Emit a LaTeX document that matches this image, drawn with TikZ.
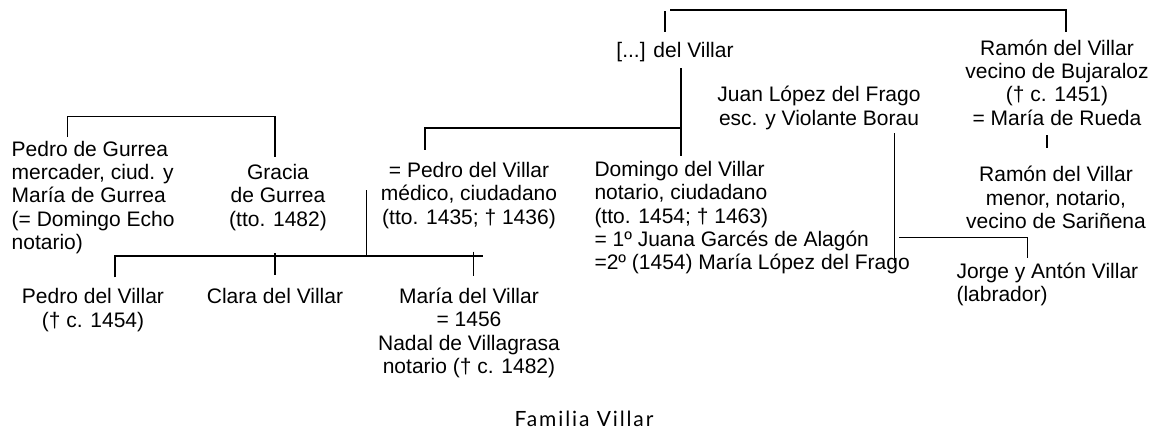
\documentclass[tikz,border=0pt]{standalone}
\usepackage{fontspec}
\setmainfont{Liberation Sans}
\newfontfamily\capfont[LetterSpace=9]{Lato}
\begin{document}
\begin{tikzpicture}[x=1pt,y=-1pt,
  person/.style={inner sep=0pt, font=\fontsize{21}{23.3}\selectfont},
  pc/.style={person, align=center, anchor=north},
  pl/.style={person, align=left, anchor=north west},
  link/.style={line width=1.4pt, line cap=butt}]
\fill[white] (0,0) rectangle (1163,437);
\useasboundingbox (0,0) rectangle (1163,437);

% people
\node[pc] (anc) at (675,41) {\strut[...] del Villar};
\node[pc] (ramon) at (1057,38.7) {\strut Ramón del Villar\\vecino de Bujaraloz\\(† c. 1451)\\= María de Rueda};
\node[pc] (juan) at (819,85.4) {\strut Juan López del Frago\\esc. y Violante Borau};
\node[pc] (ramonm) at (1056,165.4) {\strut Ramón del Villar\\menor, notario,\\vecino de Sariñena};
\node[pl] (jorge) at (956.3,262) {\strut Jorge y Antón Villar\\(labrador)};
\node[pl] (domingo) at (594.3,160) {\strut Domingo del Villar\\notario, ciudadano\\(tto. 1454; † 1463)\\= 1º Juana Garcés de Alagón\\=2º (1454) María López del Frago};
\node[pc] (pedro) at (469,161) {\strut = Pedro del Villar\hspace{24pt}\\médico, ciudadano\\(tto. 1435; † 1436)};
\node[pl] (gurrea) at (11.5,139.7) {\strut Pedro de Gurrea\\mercader, ciud. y\\María de Gurrea\\(= Domingo Echo\\notario)};
\node[pc] (gracia) at (278,163) {\strut Gracia\\de Gurrea\\(tto. 1482)};
\node[pc] (pedroh) at (93,287.4) {\strut Pedro del Villar\\(† c. 1454)};
\node[pc] (clara) at (275,287.4) {\strut Clara del Villar};
\node[pc] (maria) at (469,287) {\strut María del Villar\\= 1456\\Nadal de Villagrasa\\notario († c. 1482)};
\node[inner sep=0pt, anchor=base, font=\capfont\fontsize{21}{24}\selectfont] (cap) at (584,426) {Familia Villar};

% junction coordinates
\coordinate (t0) at (665,11);
\coordinate (t1) at (670,10);
\coordinate (t2) at (1066,10);
\coordinate (ancT) at (665,32);
\coordinate (ramT) at (1066,32);
\coordinate (ancB) at (681,68);
\coordinate (domT) at (681,156);
\coordinate (jA) at (681,128);
\coordinate (jB) at (425,128);
\coordinate (pedT) at (425,150);
\coordinate (juanB) at (894.7,133);
\coordinate (juanE) at (894.7,263.3);
\coordinate (jJ) at (899,237.7);
\coordinate (jK) at (1027.3,237.7);
\coordinate (jorT) at (1027.3,258.3);
\coordinate (ramB) at (1047,135);
\coordinate (ramMT) at (1047,148);
\coordinate (gurT) at (67.3,137);
\coordinate (g1) at (67.3,116.7);
\coordinate (g2) at (275,116.7);
\coordinate (graT) at (275,157);
\coordinate (pedB) at (366.7,190);
\coordinate (c0) at (366.7,256);
\coordinate (c1) at (115,256);
\coordinate (c2) at (483.3,256);
\coordinate (phT) at (115,277.3);
\coordinate (cl0) at (275,253.3);
\coordinate (clT) at (275,275);
\coordinate (m0) at (473.3,251.7);
\coordinate (mT) at (473.3,276);

% connectors
\draw[link] (t0) -- (ancT);
\draw[link] (t1) -- (t2) -- (ramT);
\draw[link] (ancB) -- (domT);
\draw[link] (jA) -- (jB) -- (pedT);
\draw[link] (juanB) -- (juanE);
\draw[link] (jJ) -- (jK) -- (jorT);
\draw[link] (ramB) -- (ramMT);
\draw[link] (gurT) -- (g1) -- (g2) -- (graT);
\draw[link] (pedB) -- (c0);
\draw[link] (phT) -- (c1) -- (c2);
\draw[link] (cl0) -- (clT);
\draw[link] (m0) -- (mT);
\end{tikzpicture}
\end{document}
